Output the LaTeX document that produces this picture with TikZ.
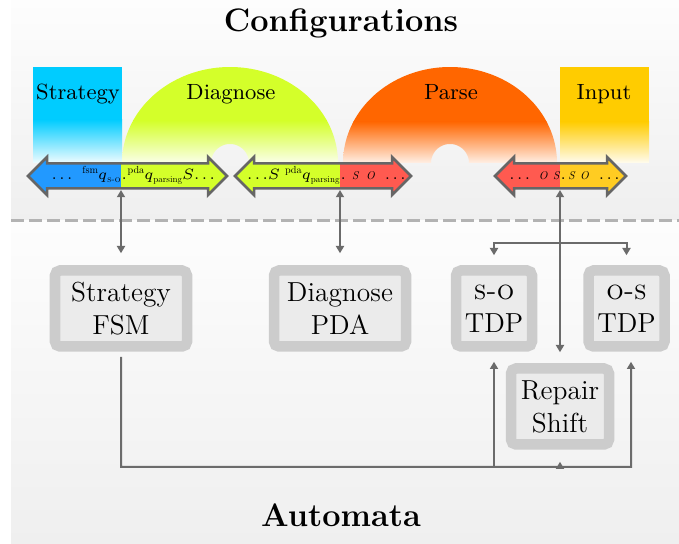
\documentclass[tikz,border=0pt]{standalone}
\usepackage{amsmath}
\usepackage{graphicx}
\usetikzlibrary{arrows.meta}
\definecolor{cfgcyan}{HTML}{00CCFF}
\definecolor{cfglime}{HTML}{D4FF2A}
\definecolor{cfgorange}{HTML}{FF6600}
\definecolor{cfgyellow}{HTML}{FFCC00}
\definecolor{arrblue}{HTML}{2299FF}
\definecolor{arrred}{HTML}{FF5A50}
\definecolor{arryellow}{HTML}{FFCC22}
\definecolor{arrlime}{HTML}{D4FF2A}
\definecolor{bordergray}{HTML}{666666}
\definecolor{conngray}{HTML}{6B6B6B}
\definecolor{boxborder}{HTML}{CCCCCC}
\definecolor{boxfill}{HTML}{EBEBEB}
\definecolor{dashgray}{HTML}{B3B3B3}
\definecolor{bgtop}{HTML}{FDFDFD}
\definecolor{bgbot}{HTML}{EFEFEF}

\newcommand{\supt}[1]{\raisebox{2.3pt}{\scalebox{0.41}{\fontsize{10}{12}\selectfont #1}}}
\newcommand{\subt}[1]{\raisebox{-1.1pt}{\scalebox{0.36}{\fontsize{10}{12}\selectfont #1}}}
\newcommand{\sotxt}[1]{\scalebox{0.45}{\fontsize{10}{12}\selectfont\itshape #1}}
\newcommand{\tdots}{.\hspace{1pt}.\hspace{1pt}.}

\tikzset{
  automaton/.style={draw=boxborder, fill=boxfill, line width=4.2pt, rounded corners=2pt,
    inner sep=0pt, align=center, minimum height=30.4pt, font=\fontsize{11}{13.2}\selectfont},
  conn/.style={draw=conngray, line width=0.8pt},
  arrtxt/.style={inner sep=0pt, font=\fontsize{6}{7.5}\selectfont},
  cfglabel/.style={inner sep=0pt, anchor=base, font=\fontsize{8.8}{10}\selectfont},
  titletxt/.style={inner sep=0pt, anchor=base, font=\fontsize{13}{15}\selectfont\bfseries},
  arrowborder/.style={draw=bordergray, line width=1pt},
  dashline/.style={draw=dashgray, line width=1.2pt, dash pattern=on 5.2pt off 2pt}
}

% name, x1, x2, xsplit, colL, colR, textL, textR
\newcommand{\cfgarrow}[8]{%
  \begin{scope}
    \clip (#2-5,150) rectangle (#4,202);
    \fill[#5] (#2,176) -- (#2+19,157) -- (#2+19,163.5) -- (#3-19,163.5) -- (#3-19,157) -- (#3,176) -- (#3-19,195) -- (#3-19,188.5) -- (#2+19,188.5) -- (#2+19,195) -- cycle;
  \end{scope}
  \begin{scope}
    \clip (#4,150) rectangle (#3+5,202);
    \fill[#6] (#2,176) -- (#2+19,157) -- (#2+19,163.5) -- (#3-19,163.5) -- (#3-19,157) -- (#3,176) -- (#3-19,195) -- (#3-19,188.5) -- (#2+19,188.5) -- (#2+19,195) -- cycle;
  \end{scope}
  \draw[arrowborder] (#2,176) -- (#2+19,157) -- (#2+19,163.5) -- (#3-19,163.5) -- (#3-19,157) -- (#3,176) -- (#3-19,195) -- (#3-19,188.5) -- (#2+19,188.5) -- (#2+19,195) -- cycle;
  \node[arrtxt, anchor=base east] (#1l) at (#4,179.5) {#7};
  \node[arrtxt, anchor=base west] (#1r) at (#4,179.5) {#8};
  \coordinate (#1) at (#4,190);
}

\begin{document}
\begin{tikzpicture}[x=0.4pt, y=-0.4pt, >={Triangle[width=3.2pt,length=2.9pt]}]
\useasboundingbox (0,0) rectangle (679,544);

% backgrounds
\shade[top color=bgtop, bottom color=bgbot] (11,0) rectangle (679,221);
\shade[top color=bgtop, bottom color=bgbot] (11,221) rectangle (679,544);

% Strategy rectangle
\fill[cfgcyan] (33,67) rectangle (122,120);
\shade[top color=cfgcyan, bottom color=cfgcyan!6!white] (33,119.5) rectangle (122,163);

% Diagnose half ring
\begin{scope}
  \clip plot[domain=180:0, samples=90] ({230+108*cos(\x)},{163-96*sin(\x)}) -- plot[domain=0:180, samples=40] ({230+19*cos(\x)},{163-19*sin(\x)}) -- cycle;
  \fill[cfglime] (110,55) rectangle (350,121);
  \shade[top color=cfglime, bottom color=cfglime!8!white] (110,120.5) rectangle (350,164);
\end{scope}

% Parse half ring
\begin{scope}
  \clip plot[domain=180:0, samples=90] ({450+107*cos(\x)},{163-96*sin(\x)}) -- plot[domain=0:180, samples=40] ({450+19*cos(\x)},{163-19*sin(\x)}) -- cycle;
  \fill[cfgorange] (330,55) rectangle (570,122);
  \shade[top color=cfgorange, bottom color=cfgorange!8!white] (330,121.5) rectangle (570,164);
\end{scope}

% Input rectangle
\fill[cfgyellow] (560,67) rectangle (649,122);
\shade[top color=cfgyellow, bottom color=cfgyellow!6!white] (560,121.5) rectangle (649,163);

% labels
\node[titletxt] (conftitle) at (341,32) {Configurations};
\node[cfglabel] (lstrat) at (78,100) {Strategy};
\node[cfglabel] (ldiag) at (231,100) {Diagnose};
\node[cfglabel] (lparse) at (451,100) {Parse};
\node[cfglabel] (linput) at (604,100) {Input};

% configuration arrows
\cfgarrow{a1}{28}{227}{121}{arrblue}{arrlime}
  {\tdots\hspace{4pt}\supt{fsm}$q$\subt{\scshape s-o}\hspace{2pt}}
  {.\hspace{0.3pt}\supt{pda}$q$\subt{parsing}$S$\tdots}
\cfgarrow{a2}{235}{411}{340}{arrlime}{arrred}
  {\tdots$S$\hspace{2pt}\supt{pda}$q$\subt{parsing}\hspace{0.5pt}}
  {.\hspace{2.5pt}\sotxt{S\hspace{7pt}O}\hspace{4pt}\tdots}
\cfgarrow{a3}{495}{626}{560}{arrred}{arryellow}
  {\tdots\hspace{3.5pt}\sotxt{O\hspace{5pt}S}\hspace{2pt}}
  {.\hspace{1pt}\sotxt{S\hspace{5pt}O}\hspace{4pt}\tdots}

% separator
\draw[dashline] (11,221) -- (679,221);

% automata
\node[automaton, minimum width=52.8pt] (fsm) at (121,308.5) {Strategy\\FSM};
\node[automaton, minimum width=52.8pt] (pda) at (340,308.5) {Diagnose\\PDA};
\node[automaton, minimum width=30.4pt] (so) at (494,308.5) {\textsc{s-o}\\TDP};
\node[automaton, minimum width=30.4pt] (os) at (626.5,308.5) {\textsc{o-s}\\TDP};
\node[automaton, minimum width=39.2pt] (rs) at (560,406.5) {Repair\\Shift};

\node[titletxt] (autotitle) at (341,527) {Automata};

% connectors
\draw[conn,<->] (a1) -- ([yshift=4.8pt]fsm.north);
\draw[conn,<->] (a2) -- ([yshift=4.8pt]pda.north);
\draw[conn,<->] (a3) -- ([yshift=4.4pt]rs.north);
\coordinate (br) at (560,243);
\draw[conn,->] (br) -| ([yshift=4pt]so.north);
\draw[conn,->] (br) -| ([yshift=4pt]os.north);
\coordinate (busR) at (631,467);
\coordinate (busS) at (494,467);
\coordinate (busM) at (560,467);
\draw[conn,->] ([yshift=-2.1pt]fsm.south) |- (busR) -- ([xshift=1.8pt,yshift=-4pt]os.south);
\draw[conn,->] (busS) -- ([yshift=-4pt]so.south);
\draw[conn,->] (busM) -- ([yshift=-4.8pt]rs.south);
\end{tikzpicture}
\end{document}
